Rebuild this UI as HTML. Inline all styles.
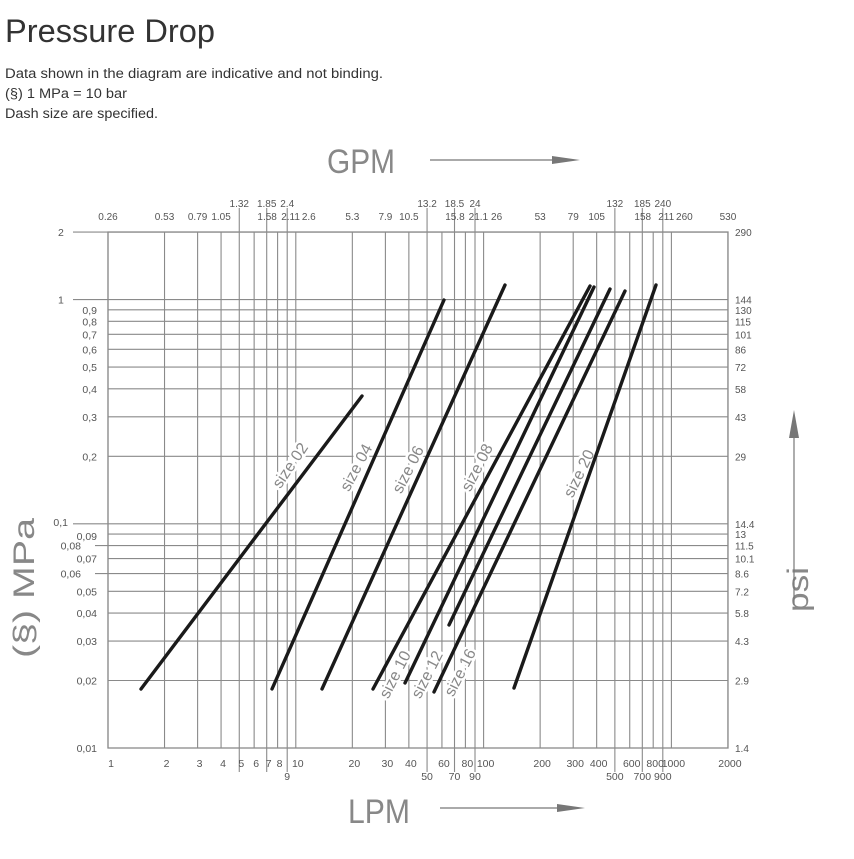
<!DOCTYPE html>
<html><head><meta charset="utf-8"><style>
body{margin:0;background:#fff;width:854px;height:854px;overflow:hidden;font-family:"Liberation Sans",sans-serif}
</style></head><body>
<svg width="854" height="854" xmlns="http://www.w3.org/2000/svg" font-family="Liberation Sans Narrow, Liberation Sans, sans-serif">
<text x="5" y="42" font-size="32" fill="#333" font-family="Liberation Sans, sans-serif" textLength="210" lengthAdjust="spacingAndGlyphs">Pressure Drop</text>
<text x="5" y="78" font-size="13.5" fill="#333" font-family="Liberation Sans, sans-serif" textLength="378" lengthAdjust="spacingAndGlyphs">Data shown in the diagram are indicative and not binding.</text>
<text x="5" y="98" font-size="13.5" fill="#333" font-family="Liberation Sans, sans-serif" textLength="122" lengthAdjust="spacingAndGlyphs">(§) 1 MPa = 10 bar</text>
<text x="5" y="118" font-size="13.5" fill="#333" font-family="Liberation Sans, sans-serif" textLength="153" lengthAdjust="spacingAndGlyphs">Dash size are specified.</text>
<g id="g"></g>
<text x="327" y="173" font-size="34" fill="#888" textLength="68" lengthAdjust="spacingAndGlyphs">GPM</text>
<line x1="430" y1="160" x2="555" y2="160" stroke="#777" stroke-width="1.2"/>
<polygon points="552,156 580,160 552,164" fill="#777"/>
<text x="348" y="823" font-size="34" fill="#888" textLength="62" lengthAdjust="spacingAndGlyphs">LPM</text>
<line x1="440" y1="808" x2="560" y2="808" stroke="#777" stroke-width="1.2"/>
<polygon points="557,804 585,808 557,812" fill="#777"/>
<text transform="translate(34,658) rotate(-90)" font-size="30" fill="#888" textLength="140" lengthAdjust="spacingAndGlyphs">(§) MPa</text>
<text transform="translate(808,612) rotate(-90)" font-size="30" fill="#888" textLength="45" lengthAdjust="spacingAndGlyphs">psi</text>
<line x1="794" y1="605" x2="794" y2="435" stroke="#777" stroke-width="1.2"/>
<polygon points="789,438 794,410 799,438" fill="#777"/>
</svg>
<script>
const S="http://www.w3.org/2000/svg",g=document.getElementById('g');
const X=v=>108+187.8*Math.log10(v),Y=p=>748-224.2*Math.log10(p/0.01);
function el(t,a,txt){const e=document.createElementNS(S,t);for(const k in a)e.setAttribute(k,a[k]);if(txt!=null)e.textContent=txt;g.appendChild(e);return e;}
const gc="#8a8a8a";
const xs=[];for(let d=1;d<=1000;d*=10)for(let m=1;m<=9;m++){if(d*m<=1000)xs.push(d*m);}xs.push(2000);
xs.forEach(v=>{const x=X(v);const m=Math.round(v/Math.pow(10,Math.floor(Math.log10(v)+1e-9)));
 const ext=(m==5||m==7||m==9);
 el('line',{x1:x,x2:x,y1:ext?208:232,y2:ext?772:748,stroke:gc,'stroke-width':1.1});});
const ys=[];for(let d=0.01;d<1.5;d*=10)for(let m=1;m<=9;m++){const p=+(d*m).toPrecision(3);if(p<=1)ys.push(p);}ys.push(2);
ys.forEach(p=>{let x0=108;if(p==2||p==1||p==0.1)x0=73;if(p==0.08||p==0.06)x0=95;
 el('line',{x1:x0,x2:728,y1:Y(p),y2:Y(p),stroke:gc,'stroke-width':1.1});});
const bl=[[1,0],[2,0],[3,0],[4,0],[5,0],[6,0],[7,0],[8,0],[9,1],[10,0],[20,0],[30,0],[40,0],[50,1],[60,0],[70,1],[80,0],[90,1],[100,0],[200,0],[300,0],[400,0],[500,1],[600,0],[700,1],[800,0],[900,1],[1000,0],[2000,0]];
bl.forEach(([v,r])=>{let x=X(v)+(r?0:(v==1?3:2));el('text',{x:x,y:r?780:767,'font-size':10.5,fill:'#555','text-anchor':'middle'},String(v));});
const tl=[[1,'0.26',0],[2,'0.53',0],[3,'0.79',0],[4,'1.05',0],[5,'1.32',1],[6,'1.58',0],[7,'1.85',1],[8,'2.11',0],[9,'2.4',1],[10,'2.6',0],[20,'5.3',0],[30,'7.9',0],[40,'10.5',0],[50,'13.2',1],[60,'15.8',0],[70,'18.5',1],[80,'21.1',0],[90,'24',1],[100,'26',0],[200,'53',0],[300,'79',0],[400,'105',0],[500,'132',1],[600,'158',0],[700,'185',1],[800,'211',0],[900,'240',1],[1000,'260',0],[2000,'530',0]];
tl.forEach(([v,t,r])=>{let x=X(v)+(r?0:(v>=6&&v<=8||v==60||v==80||v==600||v==800||v==1000||v==100||v==10?13:0));
 el('text',{x:x,y:r?207:220,'font-size':10,fill:'#555','text-anchor':'middle'},t);});
const ll=[[2,'2',58],[1,'1',58],[0.9,'0,9',97],[0.8,'0,8',97],[0.7,'0,7',97],[0.6,'0,6',97],[0.5,'0,5',97],[0.4,'0,4',97],[0.3,'0,3',97],[0.2,'0,2',97],[0.1,'0,1',68],[0.09,'0,09',97],[0.08,'0,08',81],[0.07,'0,07',97],[0.06,'0,06',81],[0.05,'0,05',97],[0.04,'0,04',97],[0.03,'0,03',97],[0.02,'0,02',97],[0.01,'0,01',97]];
ll.forEach(([p,t,x])=>{let a=(p==2||p==1)?'start':'end';let y=Y(p)+4;if(p==0.1)y-=2;if(p==0.09)y+=2;
 el('text',{x:x,y:y,'font-size':10.5,fill:'#555','text-anchor':a},t);});
const rl=[[2,'290'],[1,'144'],[0.9,'130'],[0.8,'115'],[0.7,'101'],[0.6,'86'],[0.5,'72'],[0.4,'58'],[0.3,'43'],[0.2,'29'],[0.1,'14.4'],[0.09,'13'],[0.08,'11.5'],[0.07,'10.1'],[0.06,'8.6'],[0.05,'7.2'],[0.04,'5.8'],[0.03,'4.3'],[0.02,'2.9'],[0.01,'1.4']];
rl.forEach(([p,t])=>el('text',{x:735,y:Y(p)+4,'font-size':10,fill:'#555'},t));
const labs=[['size 02',291,466,-56],['size 04',357,468,-62],['size 06',409,470,-63],['size 08',478,468,-63],['size 20',580,474,-64],['size 10',396,675,-63],['size 12',428,675,-63],['size 16',461,673,-63]];
labs.forEach(([t,x,y,a])=>el('text',{transform:`translate(${x},${y}) rotate(${a})`,'font-size':16,fill:'#888','text-anchor':'middle','dominant-baseline':'middle',stroke:'#fff','stroke-width':5,'paint-order':'stroke'},t));
const L=[[141,689,362,396],[272,689,444,300],[322,689,505,285],[373,689,590,286],[405,683,594,287],[449,625,610,289],[434,692,625,291],[514,688,656,285]];
L.forEach(([a,b,c,d])=>el('line',{x1:a,y1:b,x2:c,y2:d,stroke:'#1a1a1a','stroke-width':3.4,'stroke-linecap':'round'}));
el('rect',{x:108,y:232,width:620,height:516,fill:'none',stroke:gc,'stroke-width':1.3});
</script>
</body></html>
